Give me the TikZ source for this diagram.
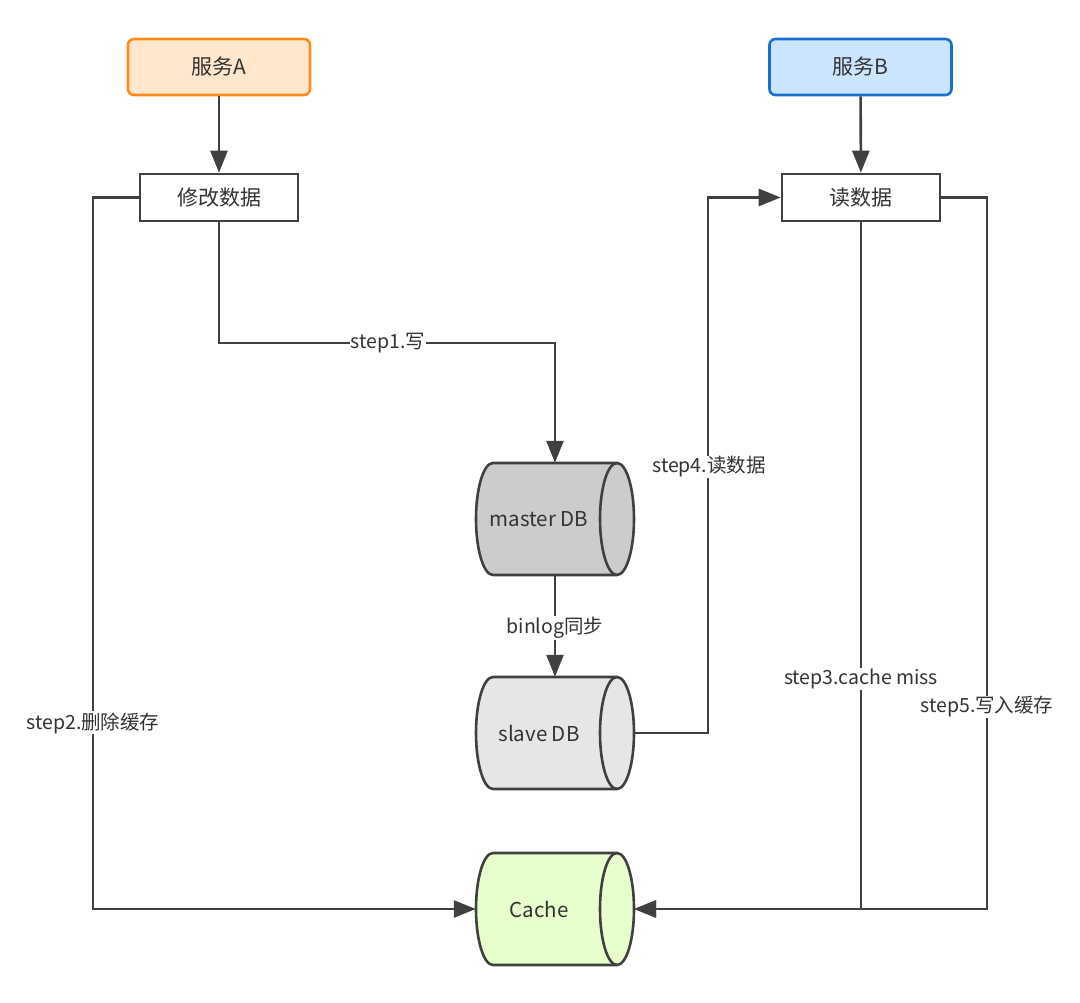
\documentclass[tikz,border=0pt]{standalone}
\usepackage{fontspec}
\setmainfont{Noto Sans CJK SC}
\usetikzlibrary{arrows.meta}
\definecolor{ln}{HTML}{404040}
\definecolor{tx}{HTML}{333333}
\definecolor{orb}{HTML}{FF8C1A}
\definecolor{orf}{HTML}{FFE6CC}
\definecolor{blb}{HTML}{1A6FD0}
\definecolor{blf}{HTML}{CCE5FF}
\definecolor{mf}{HTML}{CCCCCC}
\definecolor{sf}{HTML}{E6E6E6}
\definecolor{cf}{HTML}{E6FFCC}
\newcommand\drawcyl[3]{%
  \filldraw[cylline, fill=#3] (#1-62, #2+56) -- (#1+62, #2+56)
    arc[start angle=90, end angle=-90, x radius=17pt, y radius=56pt]
    -- (#1-62, #2-56)
    arc[start angle=270, end angle=90, x radius=17pt, y radius=56pt] -- cycle;
  \draw[cylline] (#1+62, #2+56) arc[start angle=90, end angle=270, x radius=17pt, y radius=56pt];
}
\begin{document}
\begin{tikzpicture}[x=1pt, y=1pt,
  every node/.style={text=tx, font=\fontsize{19.5}{22}\selectfont},
  svc/.style={draw, rounded corners=6pt, line width=2.6pt, minimum width=182pt, minimum height=56pt, inner sep=0pt, font=\fontsize{21}{23}\selectfont},
  opbox/.style={draw=ln, fill=white, line width=2.6pt, minimum width=158pt, minimum height=47pt, inner sep=0pt, font=\fontsize{21}{23}\selectfont},
  cylline/.style={draw=ln, line width=2.6pt, line join=round},
  cylnode/.style={minimum width=158pt, minimum height=112pt, inner sep=0pt},
  cyltext/.style={inner sep=0pt, font=\fontsize{20.5}{23}\selectfont},
  conn/.style={draw=ln, line width=2.6pt},
  arr/.style={conn, -{Triangle[length=22pt, width=17pt]}},
  lbl/.style={fill=white, inner sep=1pt}
]
\useasboundingbox (0,0) rectangle (1080,1003);
\fill[white] (0,0) rectangle (1080,1003);

\node[svc, draw=orb, fill=orf] (A) at (219,936) {服务A};
\node[svc, draw=blb, fill=blf] (B) at (860.5,936) {服务B};
\node[opbox] (mod) at (219,805.5) {修改数据};
\node[opbox] (rd) at (861,805.5) {读数据};

\drawcyl{555}{484}{mf}
\node[cylnode] (master) at (555,484) {};
\node[cyltext] (mastert) at (539,484) {master DB};
\drawcyl{555}{270}{sf}
\node[cylnode] (slave) at (555,270) {};
\node[cyltext] (slavet) at (539,270) {slave DB};
\drawcyl{555}{94}{cf}
\node[cylnode] (cache) at (555,94) {};
\node[cyltext] (cachet) at (539,94) {Cache};

\draw[arr] (A) -- (mod);
\draw[arr] (B) -- (rd);

% step1
\draw[arr] (mod.south) -- (219,660) -| (master.north);
\node[lbl] (l1) at (388,660) {step1.写};

% binlog
\draw[arr] (master.south) -- (slave.north);
\node[lbl] (lb) at (555,375) {binlog同步};

% step4
\draw[arr] (slave.east) -- (708,270) |- (rd.west);
\node[lbl] (l4) at (709,536) {step4.读数据};

% step2
\draw[arr] (mod.west) -- (93,805.5) |- (cache.west);
\node[lbl] (l2) at (93,280) {step2.删除缓存};

% step5
\draw[arr] (rd.east) -- (987,805.5) |- (cache.east);
% step3
\draw[arr] (rd.south) |- (cache.east);
\node[lbl] (l3) at (861,324) {step3.cache miss};
\node[lbl] (l5) at (987,296) {step5.写入缓存};
\end{tikzpicture}
\end{document}
